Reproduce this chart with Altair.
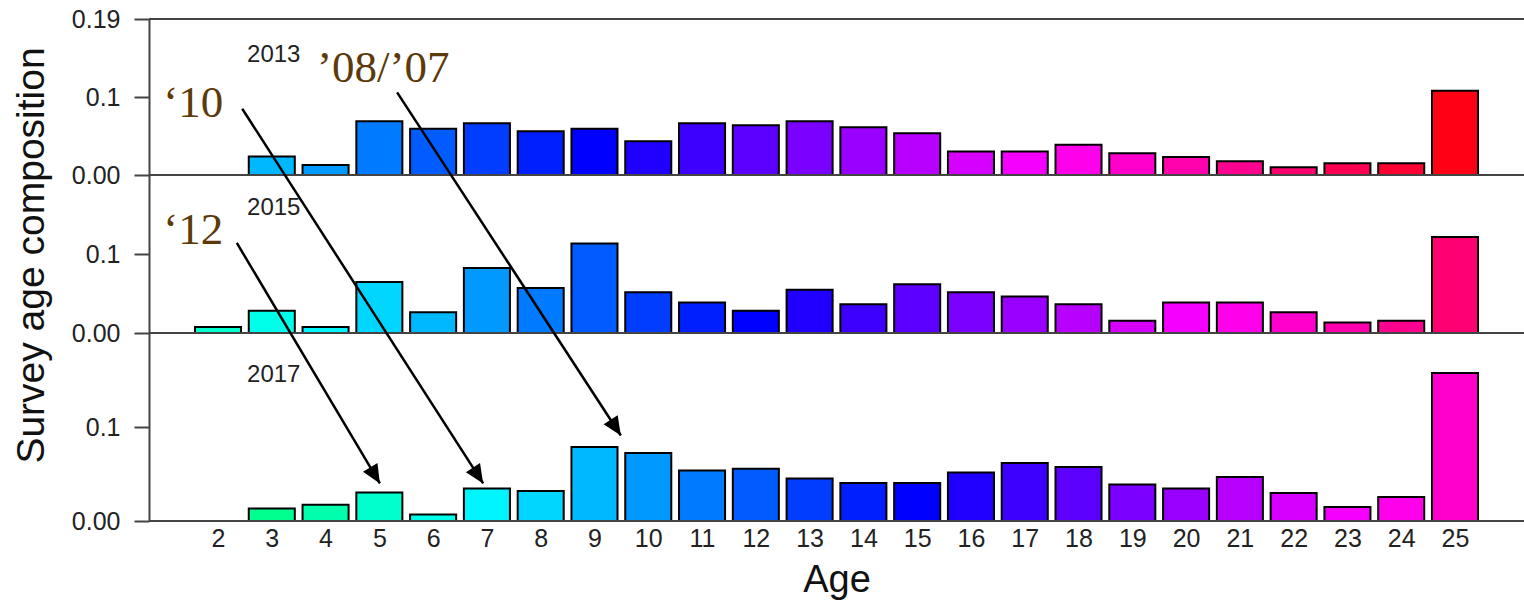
import colorsys
import altair as alt
import pandas as pd

# ---------------- data ----------------
ages = list(range(2, 26))
years = [2013, 2015, 2017]

comp_2013 = [0.0, 0.0236, 0.0129, 0.069, 0.0593, 0.0665, 0.0562, 0.0593, 0.0433, 0.0665,
             0.0639, 0.069, 0.0613, 0.0536, 0.030, 0.030, 0.0387, 0.0278, 0.0232, 0.0175,
             0.0098, 0.015, 0.015, 0.108]
comp_2015 = [0.0077, 0.0283, 0.0077, 0.0644, 0.0262, 0.0824, 0.0571, 0.1133, 0.0515, 0.0386,
             0.0283, 0.0546, 0.0365, 0.0618, 0.0515, 0.0463, 0.0365, 0.0154, 0.0386, 0.0386,
             0.0262, 0.0134, 0.0154, 0.1215]
comp_2017 = [0.0, 0.0132, 0.0174, 0.0302, 0.0068, 0.0345, 0.0319, 0.0787, 0.0723, 0.0536,
             0.0557, 0.0451, 0.0404, 0.0404, 0.0515, 0.0617, 0.0574, 0.0387, 0.0345, 0.0468,
             0.0298, 0.0149, 0.0255, 0.1574]
comps = {2013: comp_2013, 2015: comp_2015, 2017: comp_2017}

# panel label (year) positions, in age / composition units of each panel
panel_label_age = [2.54, 2.54, 2.54]
panel_label_val = [0.145, 0.149, 0.148]

# cohort annotations
ann_text = ["\u201810", "\u201908/\u201907", "\u201812"]
ann_year = [2013, 2013, 2015]
ann_age = [0.98, 3.84, 0.98]
ann_val = [0.074, 0.119, 0.113]

# arrows: start (year panel, age, value) -> end (year panel, age, value)
arr_from_year = [2013, 2015, 2013]
arr_from_age = [2.45, 2.35, 5.33]
arr_from_val = [0.085, 0.114, 0.106]
arr_to_year = [2017, 2017, 2017]
arr_to_age = [6.93, 5.01, 9.49]
arr_to_val = [0.040, 0.040, 0.091]
arr_angle = [147, 149, 147]

# ---------------- styling helpers ----------------
panel_offset = {2017: 0.0, 2015: 0.2, 2013: 0.4}
blue_age = {2013: 9, 2015: 12, 2017: 15}


def bar_color(year, age):
    hue = (240 + 7.2 * (age - blue_age[year])) % 360
    r, g, b = colorsys.hsv_to_rgb(hue / 360.0, 1, 1)
    return "#%02x%02x%02x" % (int(round(r * 255)), int(round(g * 255)), int(round(b * 255)))


rows = []
for yr in years:
    for a, v in zip(ages, comps[yr]):
        if v <= 0:
            continue
        off = panel_offset[yr]
        rows.append({"year": yr, "age": a, "value": v,
                     "x0": a - 0.428, "x1": a + 0.428,
                     "y0": off, "y1": off + v,
                     "color": bar_color(yr, a)})
bars_df = pd.DataFrame(rows)

labels_df = pd.DataFrame({
    "label": [str(y) for y in years],
    "age": panel_label_age,
    "y": [panel_offset[y] + v for y, v in zip(years, panel_label_val)],
})
ann_df = pd.DataFrame({
    "label": ann_text,
    "age": ann_age,
    "y": [panel_offset[y] + v for y, v in zip(ann_year, ann_val)],
})
arr_df = pd.DataFrame({
    "xa": arr_from_age,
    "ya": [panel_offset[y] + v for y, v in zip(arr_from_year, arr_from_val)],
    "xb": arr_to_age,
    "yb": [panel_offset[y] + v for y, v in zip(arr_to_year, arr_to_val)],
    "ang": arr_angle,
})
lines_df = pd.DataFrame({"y": [0.0, 0.2, 0.4, 0.6]})

W, H = 1375, 502
xscale = alt.Scale(domain=[0.717, 26.283], nice=False, zero=False)
yscale = alt.Scale(domain=[0.0, 0.2, 0.4, 0.6], range=[502, 314, 156, 0],
                   nice=False, zero=False)

AXIS_COL = "#444444"
TXT = "#222222"

x_axis = alt.Axis(values=ages, format="d", ticks=False, domain=False, grid=False,
                  labelFontSize=25, labelFont="Liberation Sans", labelColor=TXT,
                  labelPadding=5, labelBaseline="top",
                  title="Age", titleFontSize=38, titleFont="Liberation Sans",
                  titleFontWeight="normal", titleColor="#111111",
                  titleBaseline="alphabetic", titleY=70)
y_axis = alt.Axis(values=[0, 0.1, 0.2, 0.3, 0.4, 0.5, 0.6],
                  labelExpr="datum.value > 0.55 ? '0.19' : (round(datum.value * 10) % 2 == 0 ? '0.00' : '0.1')",
                  labelFontSize=25, labelFont="Liberation Sans", labelColor=TXT,
                  labelPadding=14, tickSize=15, tickWidth=2, tickColor=AXIS_COL,
                  domainColor=AXIS_COL, domainWidth=2, grid=False,
                  title="Survey age composition", titleFontSize=39,
                  titleFont="Liberation Sans", titleFontWeight="normal",
                  titleColor="#111111", titleAngle=270, titleBaseline="alphabetic",
                  titleX=-106, titleY=236, titleAlign="center")

bars = alt.Chart(bars_df).mark_rect(stroke="black", strokeWidth=2).encode(
    x=alt.X("x0:Q", scale=xscale, axis=x_axis),
    x2="x1:Q",
    y=alt.Y("y0:Q", scale=yscale, axis=y_axis),
    y2="y1:Q",
    color=alt.Color("color:N", scale=None),
)

hlines = alt.Chart(lines_df).mark_rule(color=AXIS_COL, strokeWidth=2).encode(
    y=alt.Y("y:Q", scale=yscale),
)

year_labels = alt.Chart(labels_df).mark_text(
    align="left", baseline="alphabetic", font="Liberation Sans", fontSize=24, color=TXT
).encode(x=alt.X("age:Q", scale=xscale), y=alt.Y("y:Q", scale=yscale), text="label:N")

annotations = alt.Chart(ann_df).mark_text(
    align="left", baseline="alphabetic", font="Liberation Serif", fontSize=45, color="#5C3A0A"
).encode(x=alt.X("age:Q", scale=xscale), y=alt.Y("y:Q", scale=yscale), text="label:N")

arrow_lines = alt.Chart(arr_df).mark_rule(color="black", strokeWidth=2.5).encode(
    x=alt.X("xa:Q", scale=xscale), y=alt.Y("ya:Q", scale=yscale),
    x2="xb:Q", y2="yb:Q",
)

arrow_heads = alt.Chart(arr_df).mark_point(
    shape="M0,0 L-0.45,1 L0.45,1 Z", filled=True, color="black", opacity=1, strokeWidth=0
).encode(
    x=alt.X("xb:Q", scale=xscale), y=alt.Y("yb:Q", scale=yscale),
    angle=alt.Angle("ang:Q", scale=None),
    size=alt.value(1400),
)

chart = alt.layer(bars, hlines, year_labels, annotations, arrow_lines, arrow_heads).properties(
    width=W, height=H,
    autosize=alt.AutoSizeParams(type="none"),
    padding={"left": 149, "top": 19, "right": 0, "bottom": 91},
).configure_view(stroke=None).configure(background="white")

chart.save("out.html", embed_options={"renderer": "svg", "actions": False})
